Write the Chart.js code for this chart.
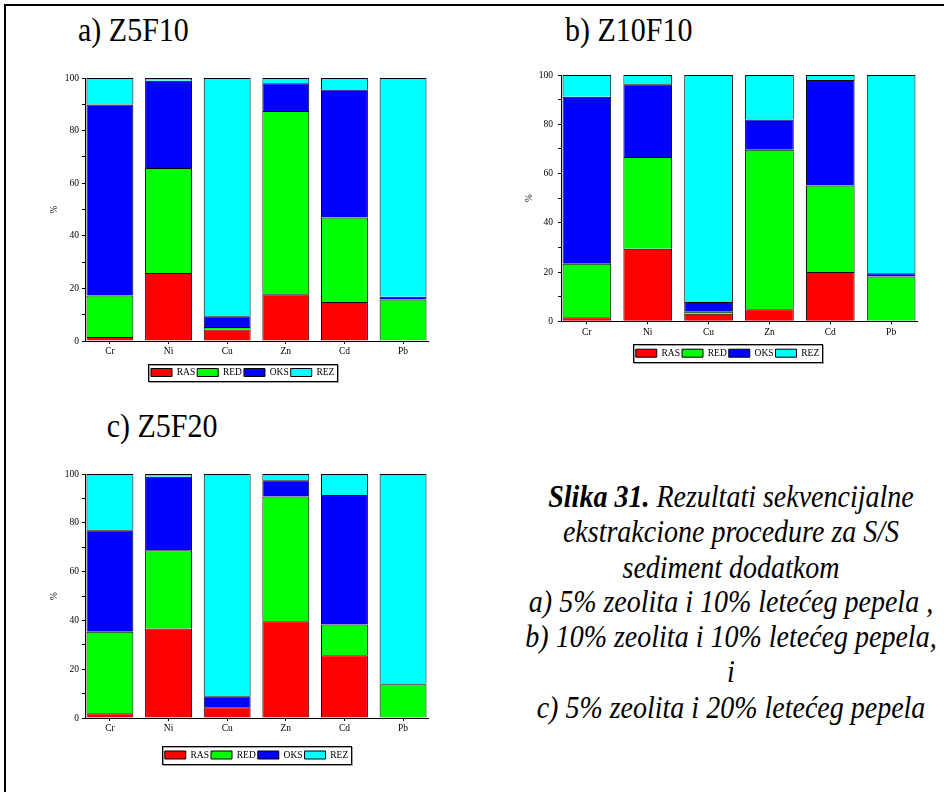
<!DOCTYPE html>
<html>
<head>
<meta charset="utf-8">
<title>Slika 31</title>
<script src="https://cdn.jsdelivr.net/npm/chart.js@4.4.1/dist/chart.umd.min.js"></script>
<style>
  html, body { margin: 0; padding: 0; background: #fff; }
  body { width: 944px; height: 792px; position: relative; overflow: hidden;
         font-family: "Liberation Serif", serif; color: #000; }
  .frame { position: absolute; left: 4px; top: 4px; width: 1000px; height: 900px;
           border-top: 2px solid #000; border-left: 2px solid #000; }
  .panel-title { position: absolute; font-size: 30px; line-height: 30px; white-space: nowrap;
                 transform: scaleY(1.12); transform-origin: 0 0; }
  .caption { position: absolute; left: 516px; top: 478.6px; width: 430px; text-align: center;
             font-size: 28px; line-height: 31.25px; font-style: italic; white-space: nowrap;
             transform: scaleY(1.12); transform-origin: 0 0; }
  .caption b { font-weight: bold; }
  .plot { position: absolute; }
  .plot canvas { display: block; }
</style>
</head>
<body>
<div class="frame"></div>

<div class="panel-title" style="left:78px; top:12.9px;">a) Z5F10</div>
<div class="panel-title" style="left:565px; top:12.9px;">b) Z10F10</div>
<div class="panel-title" style="left:106.7px; top:408.6px;">c) Z5F20</div>

<div class="plot" style="left:40px; top:60px;"><canvas id="chartA" width="400" height="330"></canvas></div>
<div class="plot" style="left:520px; top:60px;"><canvas id="chartB" width="424" height="310"></canvas></div>
<div class="plot" style="left:40px; top:460px;"><canvas id="chartC" width="400" height="312"></canvas></div>

<div class="caption">
  <div><b>Slika 31.</b> Rezultati sekvencijalne</div>
  <div>ekstrakcione procedure za S/S</div>
  <div>sediment dodatkom</div>
  <div>a) 5% zeolita i 10% letećeg pepela ,</div>
  <div>b) 10% zeolita i 10% letećeg pepela,</div>
  <div>i</div>
  <div>c) 5% zeolita i 20% letećeg pepela</div>
</div>

<script>
// Metals on the x axis and the four extraction fractions (stack order, bottom to top)
const metals = ['Cr', 'Ni', 'Cu', 'Zn', 'Cd', 'Pb'];
const fractions = ['RAS', 'RED', 'OKS', 'REZ'];
const yTickValues = [0, 20, 40, 60, 80, 100];

// a) Z5F10: share of each fraction, %
const z5f10Ras = [1.5, 25.9, 4.4, 17.8, 14.8, 0];
const z5f10Red = [15.8, 39.9, 0.9, 69.7, 32.2, 15.8];
const z5f10Oks = [72.6, 33.2, 4.1, 10.5, 48.6, 1.0];
const z5f10Rez = [10.1, 1.0, 90.6, 2.0, 4.4, 83.2];

// b) Z10F10
const z10f10Ras = [1.6, 29.5, 3.1, 4.9, 20.0, 0];
const z10f10Red = [21.8, 37.2, 0.8, 64.8, 35.1, 18.2];
const z10f10Oks = [67.8, 29.5, 3.9, 12.2, 42.9, 1.3];
const z10f10Rez = [8.8, 3.8, 92.2, 18.1, 2.0, 80.5];

// c) Z5F20
const z5f20Ras = [1.9, 36.7, 4.4, 39.7, 25.7, 0];
const z5f20Red = [33.4, 32.1, 0, 51.1, 12.6, 13.8];
const z5f20Oks = [41.6, 30.1, 4.5, 6.6, 53.1, 0.3];
const z5f20Rez = [23.1, 1.1, 91.1, 2.6, 8.6, 85.9];

const fractionColors = ['#ff0000', '#00ff00', '#0000ff', '#00ffff'];

Chart.defaults.font.family = '"Liberation Serif", serif';
Chart.defaults.font.size = 9.5;
Chart.defaults.color = '#000';

// Framed legend: outline drawn around the legend items
const legendFrame = {
  id: 'legendFrame',
  afterDraw(chart) {
    const lg = chart.legend;
    if (!lg || !lg.legendHitBoxes || !lg.legendHitBoxes.length) return;
    const hb = lg.legendHitBoxes;
    const left = Math.round(Math.min(...hb.map(b => b.left)) - 3);
    const right = Math.round(Math.max(...hb.map(b => b.left + b.width)) + 3);
    const top = Math.round(Math.min(...hb.map(b => b.top)) - 4);
    const bottom = Math.round(Math.max(...hb.map(b => b.top + b.height)) + 4);
    const ctx = chart.ctx;
    ctx.save();
    ctx.lineWidth = 1;
    ctx.strokeStyle = '#a0a0a0';
    ctx.strokeRect(left + 1.5, top + 1.5, right - left, bottom - top);
    ctx.strokeStyle = '#000';
    ctx.strokeRect(left + 0.5, top + 0.5, right - left, bottom - top);
    ctx.restore();
  }
};

function stackedChart(canvasId, series, geo) {
  const datasets = fractions.map((name, k) => ({
    label: name,
    data: series[k].map((v, i) => ({ x: i + 1, y: v })),
    backgroundColor: fractionColors[k],
    borderColor: '#000',
    borderWidth: 1,
    stack: 'all',
    categoryPercentage: 1,
    barPercentage: 0.8
  }));

  return new Chart(document.getElementById(canvasId), {
    type: 'bar',
    data: { datasets },
    plugins: [legendFrame],
    options: {
      responsive: false,
      animation: false,
      devicePixelRatio: 1,
      layout: { padding: geo.padding },
      plugins: {
        tooltip: { enabled: false },
        legend: {
          position: 'bottom',
          fullSize: geo.legendFullSize,
          labels: { boxWidth: 21, boxHeight: 8, padding: 2, color: '#000', font: { size: 9.5 } }
        }
      },
      scales: {
        x: {
          type: 'linear',
          stacked: true,
          offset: false,
          min: 0.575,
          max: 6.425,
          afterBuildTicks: s => { s.ticks = metals.map((m, i) => ({ value: i + 1 })); },
          afterFit: s => { s.height = geo.xAxisHeight; },
          ticks: { autoSkip: false, maxRotation: 0, padding: 2, color: '#000',
                   callback: v => metals[Math.round(v) - 1] },
          grid: { offset: false, drawOnChartArea: false, color: '#000', tickLength: 3 },
          border: { color: '#000', width: 1 }
        },
        y: {
          stacked: true,
          min: 0,
          max: 100,
          afterFit: s => { s.width = geo.yAxisWidth; },
          ticks: { stepSize: 10, autoSkip: false, padding: geo.yTickPadding, color: '#000',
                   callback: v => (yTickValues.includes(v) ? String(v) : '') },
          grid: { drawOnChartArea: false, color: '#000', tickLength: 3 },
          border: { color: '#000', width: 1 },
          title: { display: true, text: '%', color: '#000', font: { size: 9.5 },
                   padding: { top: geo.titleOffset, bottom: 0 } }
        }
      }
    }
  });
}

stackedChart('chartA', [z5f10Ras, z5f10Red, z5f10Oks, z5f10Rez], {
  padding: { left: 17.4, right: 12, top: 18, bottom: 2.75 },
  legendFullSize: true, xAxisHeight: 24.75, yAxisWidth: 27.6, yTickPadding: 3, titleOffset: -9.1
});

stackedChart('chartB', [z10f10Ras, z10f10Red, z10f10Oks, z10f10Rez], {
  padding: { left: 18, right: 27, top: 15, bottom: 2.05 },
  legendFullSize: true, xAxisHeight: 25.15, yAxisWidth: 23, yTickPadding: 5, titleOffset: -14.7
});

stackedChart('chartC', [z5f20Ras, z5f20Red, z5f20Oks, z5f20Rez], {
  padding: { left: 9, right: 12, top: 14, bottom: 2.25 },
  legendFullSize: false, xAxisHeight: 30.25, yAxisWidth: 36, yTickPadding: 3, titleOffset: -0.7
});
</script>
</body>
</html>
